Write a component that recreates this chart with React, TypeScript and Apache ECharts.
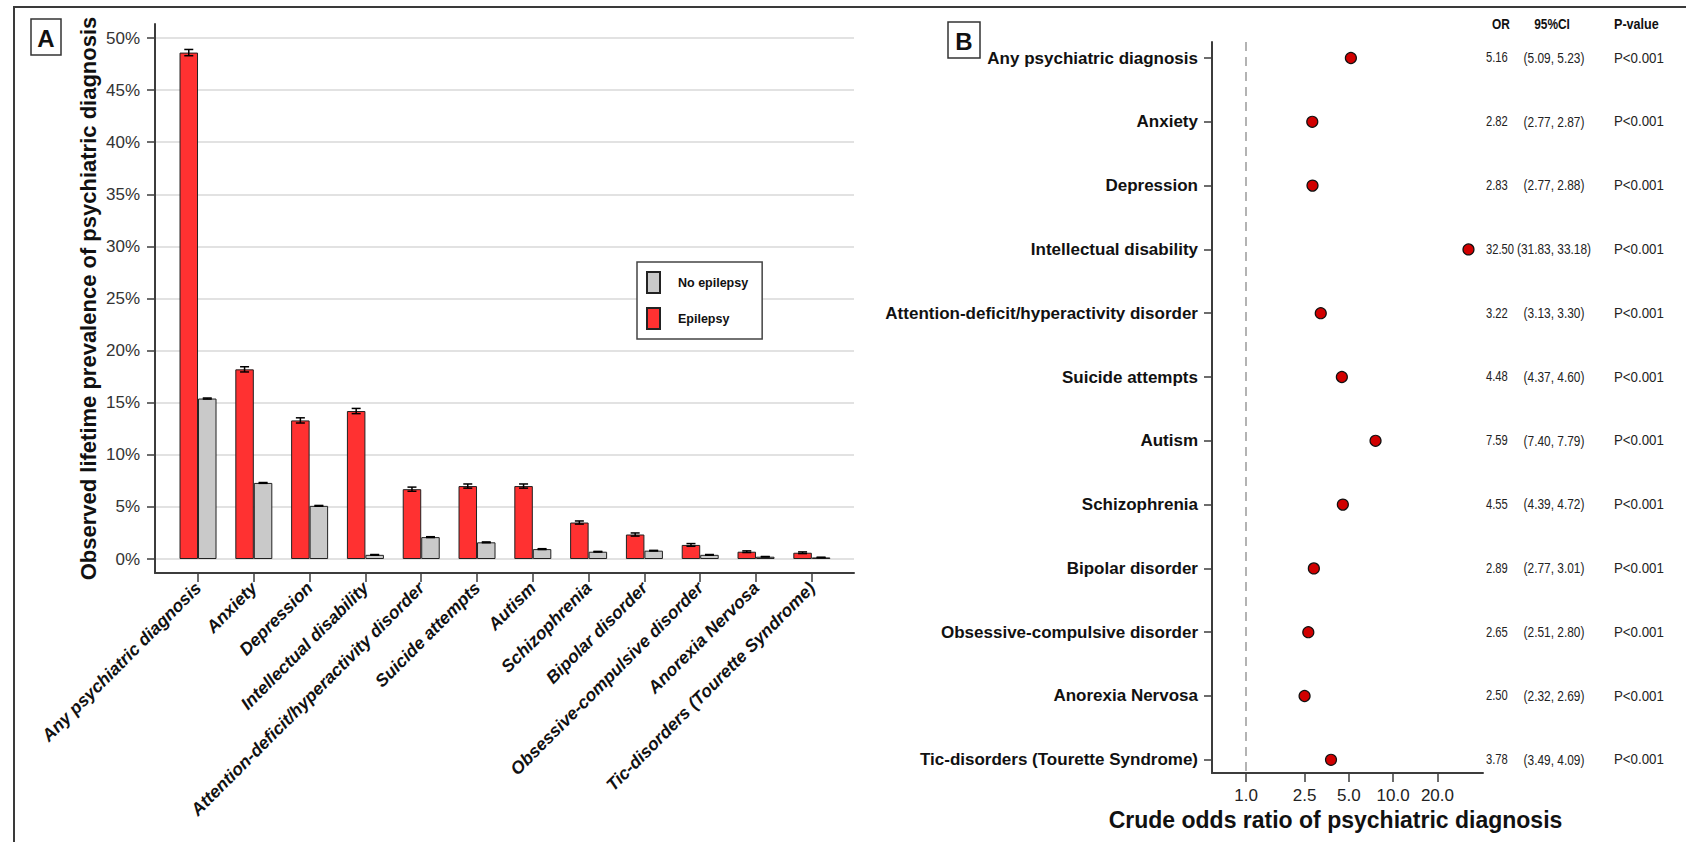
import React, { useEffect, useRef } from 'react';
import * as echarts from 'echarts';

// Panel A: observed lifetime prevalence (%) by diagnosis
const prevalenceCategories = [
  'Any psychiatric diagnosis',
  'Anxiety',
  'Depression',
  'Intellectual disability',
  'Attention-deficit/hyperactivity disorder',
  'Suicide attempts',
  'Autism',
  'Schizophrenia',
  'Bipolar disorder',
  'Obsessive-compulsive disorder',
  'Anorexia Nervosa',
  'Tic-disorders (Tourette Syndrome)',
];
const epilepsyPrevalence = [48.6, 18.2, 13.3, 14.2, 6.7, 7.0, 7.0, 3.5, 2.35, 1.35, 0.7, 0.6];
const epilepsyLower = [48.3, 17.95, 13.05, 13.95, 6.5, 6.8, 6.8, 3.35, 2.2, 1.22, 0.62, 0.52];
const epilepsyUpper = [48.9, 18.45, 13.55, 14.45, 6.9, 7.2, 7.2, 3.65, 2.5, 1.48, 0.78, 0.68];
const noEpilepsyPrevalence = [15.4, 7.3, 5.1, 0.4, 2.1, 1.6, 0.95, 0.7, 0.8, 0.4, 0.22, 0.15];
const noEpilepsyLower = [15.35, 7.26, 5.06, 0.37, 2.06, 1.56, 0.91, 0.67, 0.77, 0.37, 0.2, 0.13];
const noEpilepsyUpper = [15.45, 7.34, 5.14, 0.43, 2.14, 1.64, 0.99, 0.73, 0.83, 0.43, 0.24, 0.17];

// Panel B: crude odds ratios with 95% confidence intervals
const forestCategories = [
  'Any psychiatric diagnosis',
  'Anxiety',
  'Depression',
  'Intellectual disability',
  'Attention-deficit/hyperactivity disorder',
  'Suicide attempts',
  'Autism',
  'Schizophrenia',
  'Bipolar disorder',
  'Obsessive-compulsive disorder',
  'Anorexia Nervosa',
  'Tic-disorders (Tourette Syndrome)',
];
const oddsRatio = [5.16, 2.82, 2.83, 32.5, 3.22, 4.48, 7.59, 4.55, 2.89, 2.65, 2.5, 3.78];
const ciLower = [5.09, 2.77, 2.77, 31.83, 3.13, 4.37, 7.4, 4.39, 2.77, 2.51, 2.32, 3.49];
const ciUpper = [5.23, 2.87, 2.88, 33.18, 3.3, 4.6, 7.79, 4.72, 3.01, 2.8, 2.69, 4.09];
const pValueLabels = [
  'P<0.001', 'P<0.001', 'P<0.001', 'P<0.001', 'P<0.001', 'P<0.001',
  'P<0.001', 'P<0.001', 'P<0.001', 'P<0.001', 'P<0.001', 'P<0.001',
];
const oddsTicks = [1, 2.5, 5, 10, 20];
const tableHeaders = ['OR', '95%CI', 'P-value'];

const FONT = "'Liberation Sans', Arial, Helvetica, sans-serif";
const AXIS_COLOR = '#3c3c3c';

// horizontal placement of the statistics columns inside the table grid (px from its left edge)
const TABLE_OR_X = 6;
const TABLE_CI_X = 74;
const TABLE_P_X = 134;

const catIdx = prevalenceCategories.map((_, i) => i);
const rowIdx = forestCategories.map((_, i) => i);

function errorBars(offsetPx: number) {
  return (params: any, api: any) => {
    const x = api.value(0);
    const lo = api.coord([x, api.value(1)]);
    const hi = api.coord([x, api.value(2)]);
    const cx = lo[0] + offsetPx;
    const cap = 4.5;
    const style = { stroke: '#000', lineWidth: 1.5 };
    return {
      type: 'group',
      children: [
        { type: 'line', shape: { x1: cx, y1: lo[1], x2: cx, y2: hi[1] }, style },
        { type: 'line', shape: { x1: cx - cap, y1: lo[1], x2: cx + cap, y2: lo[1] }, style },
        { type: 'line', shape: { x1: cx - cap, y1: hi[1], x2: cx + cap, y2: hi[1] }, style },
      ],
    };
  };
}

// condensed text cell (the statistics table uses a narrow face)
function cell(x: number, y: number, text: string, align: string, scaleX: number, bold = false) {
  return {
    type: 'text',
    x,
    y,
    scaleX,
    style: {
      text,
      font: `${bold ? 'bold ' : ''}14px ${FONT}`,
      fill: bold ? '#111' : '#222',
      align,
      verticalAlign: 'middle',
    },
  };
}

function tableRow(params: any, api: any) {
  const i = api.value(1);
  const y = api.coord([0, i])[1];
  const px = (v: number) => api.coord([v, i])[0];
  return {
    type: 'group',
    children: [
      cell(px(TABLE_OR_X), y, oddsRatio[i].toFixed(2), 'left', 0.8),
      cell(px(TABLE_CI_X), y, `(${ciLower[i].toFixed(2)}, ${ciUpper[i].toFixed(2)})`, 'center', 0.85),
      cell(px(TABLE_P_X), y, pValueLabels[i], 'left', 0.95),
    ],
  };
}

function buildOption(): any {
  const barW = 18.5;
  return {
    animation: false,
    backgroundColor: '#ffffff',
    textStyle: { fontFamily: FONT },
    grid: [
      { left: 155, top: 38, width: 699, height: 521 },
      { left: 155, top: 24, width: 699, height: 549 },
      { left: 1212, top: 42, width: 271, height: 731 },
      { left: 1480, top: 42, width: 206, height: 731 },
    ],
    xAxis: [
      {
        gridIndex: 0,
        type: 'value',
        min: -0.771,
        max: 11.756,
        offset: 14,
        splitLine: { show: false },
        axisLine: { show: true, onZero: false, lineStyle: { color: AXIS_COLOR, width: 2 } },
        axisTick: { show: true, customValues: catIdx, length: 9, lineStyle: { color: AXIS_COLOR, width: 1.5 } },
        axisLabel: {
          customValues: catIdx,
          rotate: 45,
          margin: 12,
          formatter: (v: number) => prevalenceCategories[Math.round(v)],
          fontStyle: 'italic',
          fontWeight: 'bold',
          fontSize: 17.5,
          color: '#111',
        },
      },
      { gridIndex: 1, type: 'value', show: false },
      {
        gridIndex: 2,
        type: 'log',
        min: 0.587,
        max: 40.8,
        splitLine: { show: false },
        axisLine: { show: true, onZero: false, lineStyle: { color: AXIS_COLOR, width: 2 } },
        axisTick: { show: true, customValues: oddsTicks, length: 9, lineStyle: { color: AXIS_COLOR, width: 1.5 } },
        axisLabel: {
          customValues: oddsTicks,
          formatter: (v: number) => Number(v).toFixed(1),
          fontSize: 17,
          margin: 14,
          color: '#222',
        },
        name: 'Crude odds ratio of psychiatric diagnosis',
        nameLocation: 'middle',
        nameGap: 31,
        nameTextStyle: { fontWeight: 'bold', fontSize: 23, color: '#111', padding: [0, 24, 0, 0] },
      },
      { gridIndex: 3, type: 'value', min: 0, max: 206, show: false },
    ],
    yAxis: [
      {
        gridIndex: 0,
        type: 'value',
        min: 0,
        max: 50,
        interval: 5,
        axisLine: { show: false, onZero: false },
        axisTick: { show: true, length: 8, lineStyle: { color: AXIS_COLOR, width: 1.5 } },
        axisLabel: { formatter: '{value}%', fontSize: 17, margin: 15, color: '#333' },
        splitLine: { show: true, lineStyle: { color: '#e2e2e2', width: 2 } },
      },
      {
        gridIndex: 1,
        type: 'value',
        min: 0,
        max: 1,
        axisLine: { show: true, onZero: false, lineStyle: { color: AXIS_COLOR, width: 2 } },
        axisTick: { show: false },
        axisLabel: { show: false },
        splitLine: { show: false },
        name: 'Observed lifetime prevalence of psychiatric diagnosis',
        nameLocation: 'middle',
        nameRotate: 90,
        nameGap: 56,
        nameTextStyle: { fontWeight: 'bold', fontSize: 22, color: '#111' },
      },
      {
        gridIndex: 2,
        type: 'value',
        inverse: true,
        min: -0.251,
        max: 11.207,
        splitLine: { show: false },
        axisLine: { show: true, onZero: false, lineStyle: { color: AXIS_COLOR, width: 2 } },
        axisTick: { show: true, customValues: rowIdx, length: 8, lineStyle: { color: AXIS_COLOR, width: 1.5 } },
        axisLabel: {
          customValues: rowIdx,
          formatter: (v: number) => forestCategories[Math.round(v)],
          fontWeight: 'bold',
          fontSize: 17,
          margin: 14,
          color: '#111',
        },
      },
      { gridIndex: 3, type: 'value', inverse: true, min: -0.251, max: 11.207, show: false },
    ],
    legend: {
      data: ['No epilepsy', 'Epilepsy'],
      orient: 'vertical',
      left: 637,
      top: 262,
      padding: [9, 14, 9, 9],
      itemGap: 13,
      itemWidth: 13,
      itemHeight: 21,
      icon: 'rect',
      borderColor: '#444',
      borderWidth: 1.5,
      backgroundColor: '#fff',
      selectedMode: false,
      textStyle: { fontWeight: 'bold', fontSize: 12.5, color: '#111', padding: [0, 0, 0, 13] },
    },
    series: [
      {
        name: 'Epilepsy',
        type: 'bar',
        xAxisIndex: 0,
        yAxisIndex: 0,
        barWidth: barW,
        barGap: '0%',
        data: catIdx.map((i) => [i, epilepsyPrevalence[i]]),
        itemStyle: { color: '#ff3131', borderColor: '#222', borderWidth: 1 },
      },
      {
        name: 'No epilepsy',
        type: 'bar',
        xAxisIndex: 0,
        yAxisIndex: 0,
        barWidth: barW,
        barGap: '0%',
        data: catIdx.map((i) => [i, noEpilepsyPrevalence[i]]),
        itemStyle: { color: '#c9c9c9', borderColor: '#222', borderWidth: 1 },
      },
      {
        type: 'custom',
        xAxisIndex: 0,
        yAxisIndex: 0,
        z: 5,
        encode: { x: 0, y: [1, 2] },
        renderItem: errorBars(-barW / 2),
        data: catIdx.map((i) => [i, epilepsyLower[i], epilepsyUpper[i]]),
      },
      {
        type: 'custom',
        xAxisIndex: 0,
        yAxisIndex: 0,
        z: 5,
        encode: { x: 0, y: [1, 2] },
        renderItem: errorBars(barW / 2),
        data: catIdx.map((i) => [i, noEpilepsyLower[i], noEpilepsyUpper[i]]),
      },
      {
        type: 'scatter',
        xAxisIndex: 2,
        yAxisIndex: 2,
        symbolSize: 11,
        z: 4,
        data: rowIdx.map((i) => [oddsRatio[i], i]),
        itemStyle: { color: '#d10000', borderColor: '#111', borderWidth: 1.2, opacity: 1 },
        markLine: {
          silent: true,
          symbol: ['none', 'none'],
          label: { show: false },
          lineStyle: { type: [9, 6], color: '#9a9a9a', width: 1.5 },
          data: [{ xAxis: 1 }],
        },
      },
      {
        type: 'custom',
        xAxisIndex: 3,
        yAxisIndex: 3,
        encode: { x: 0, y: 1 },
        renderItem: tableRow,
        data: rowIdx.map((i) => [0, i]),
      },
    ],
    graphic: [
      {
        type: 'rect',
        silent: true,
        shape: { x: 14, y: 7, width: 1720, height: 900 },
        style: { fill: 'none', stroke: '#3a3a3a', lineWidth: 2 },
      },
      {
        type: 'group',
        children: [
          { type: 'rect', shape: { x: 31, y: 19, width: 30, height: 36 }, style: { fill: '#fff', stroke: '#333', lineWidth: 1.5 } },
          { type: 'text', x: 46, y: 38, style: { text: 'A', font: `bold 24px ${FONT}`, fill: '#111', align: 'center', verticalAlign: 'middle' } },
        ],
      },
      {
        type: 'group',
        children: [
          { type: 'rect', shape: { x: 948, y: 22, width: 32, height: 36 }, style: { fill: '#fff', stroke: '#333', lineWidth: 1.5 } },
          { type: 'text', x: 964, y: 41, style: { text: 'B', font: `bold 24px ${FONT}`, fill: '#111', align: 'center', verticalAlign: 'middle' } },
        ],
      },
      cell(1501, 24, tableHeaders[0], 'center', 0.85, true),
      cell(1552, 24, tableHeaders[1], 'center', 0.85, true),
      cell(1614, 24, tableHeaders[2], 'left', 0.9, true),
    ],
  };
}

export default function App() {
  const ref = useRef<HTMLDivElement>(null);
  useEffect(() => {
    if (!ref.current) return;
    const chart = echarts.init(ref.current, null, { renderer: 'svg' });
    chart.setOption(buildOption());
    return () => chart.dispose();
  }, []);
  return (
    <div
      ref={ref}
      style={{ position: 'fixed', left: 0, top: 0, width: 1686, height: 842, background: '#fff' }}
    />
  );
}
